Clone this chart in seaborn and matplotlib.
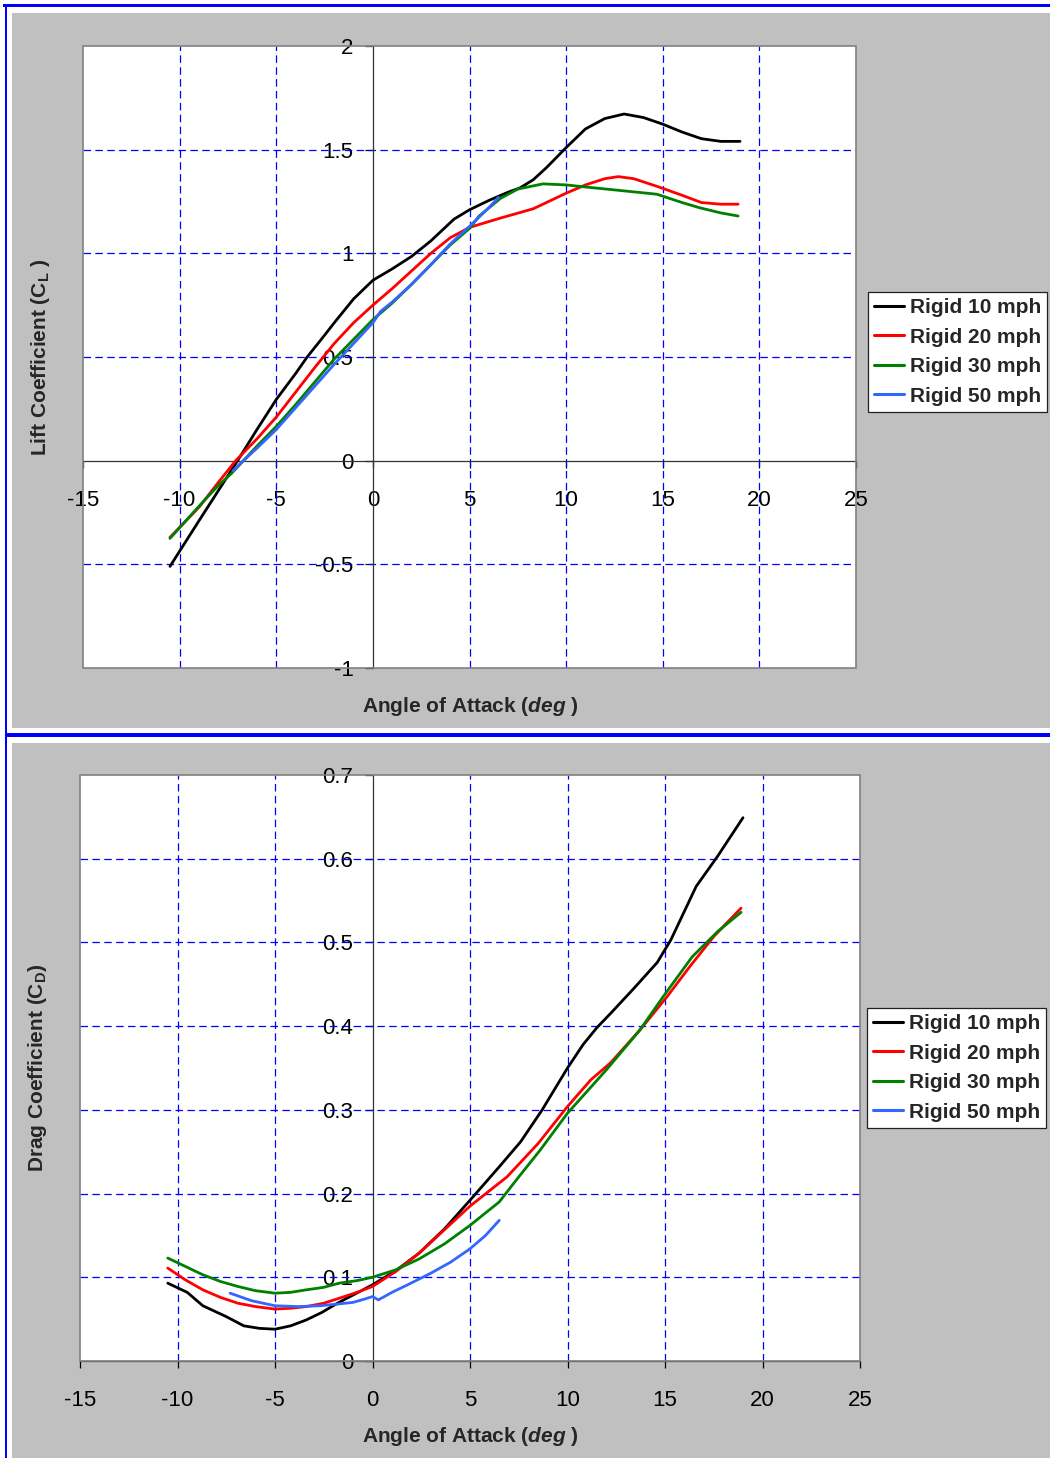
import matplotlib
matplotlib.use("Agg")
import matplotlib.pyplot as plt
import seaborn as sns
import pandas as pd
from matplotlib.patches import Rectangle
from matplotlib.lines import Line2D

sns.set_theme(style="white")
plt.rcParams['font.family'] = ['Liberation Sans', 'DejaVu Sans']
plt.rcParams['mathtext.fontset'] = 'custom'
plt.rcParams['mathtext.rm'] = 'Liberation Sans:bold'
plt.rcParams['mathtext.bf'] = 'Liberation Sans:bold'
plt.rcParams['mathtext.it'] = 'Liberation Sans:bold:italic'
plt.rcParams['mathtext.bfit'] = 'Liberation Sans:bold:italic'

# ---------------- data ----------------
series_names = ["Rigid 10 mph", "Rigid 20 mph", "Rigid 30 mph", "Rigid 50 mph"]
series_colors = ["#000000", "#FF0000", "#008000", "#3366FF"]

# Lift coefficient
cl10_x = [-10.5, -9, -8, -7, -6, -5, -4, -3.4, -2.5, -2, -1, 0, 1, 2, 3, 4.2, 5, 6, 7, 7.6, 8.3, 9, 10, 11, 12, 13, 14, 15, 16, 17, 18, 19]
cl10_y = [-0.51, -0.29, -0.145, 0.0, 0.15, 0.295, 0.42, 0.50, 0.605, 0.665, 0.78, 0.87, 0.925, 0.985, 1.06, 1.165, 1.21, 1.255, 1.295, 1.315, 1.355, 1.415, 1.51, 1.6, 1.65, 1.672, 1.655, 1.623, 1.585, 1.553, 1.54, 1.54]

cl20_x = [-10.5, -9, -8, -7.1, -6, -5, -4, -3, -2, -1, 0, 1, 2, 3, 4, 5, 6.6, 8.3, 10, 11, 12, 12.7, 13.5, 14.8, 16, 17, 18, 18.9]
cl20_y = [-0.37, -0.225, -0.105, 0.0, 0.105, 0.21, 0.33, 0.45, 0.565, 0.665, 0.75, 0.83, 0.915, 1.0, 1.075, 1.125, 1.17, 1.215, 1.29, 1.33, 1.36, 1.37, 1.36, 1.32, 1.28, 1.245, 1.237, 1.237]

cl30_x = [-10.5, -9, -8, -7.3, -6.7, -6, -5, -4, -3, -2, -1, 0, 1, 2, 3, 4, 5, 5.5, 6.6, 7.5, 8.8, 10, 11, 12.6, 14.7, 16, 16.9, 18, 18.9]
cl30_y = [-0.375, -0.22, -0.12, -0.06, 0.0, 0.07, 0.165, 0.27, 0.38, 0.49, 0.585, 0.68, 0.76, 0.85, 0.945, 1.04, 1.12, 1.18, 1.265, 1.31, 1.335, 1.33, 1.32, 1.305, 1.285, 1.245, 1.22, 1.195, 1.18]

cl50_x = [-7.25, -6.7, -6, -5, -4, -3, -2, -1, 0, 0.4, 1, 2, 3, 4, 5, 6, 6.5]
cl50_y = [-0.05, 0.0, 0.06, 0.15, 0.255, 0.36, 0.465, 0.565, 0.665, 0.72, 0.765, 0.85, 0.945, 1.045, 1.13, 1.22, 1.27]

# Drag coefficient
cd10_x = [-10.5, -9.5, -8.7, -7.5, -6.6, -5.8, -5, -4.2, -3.4, -2.6, -1.8, -0.9, 0, 1.2, 2.4, 3.7, 5, 6.5, 7.6, 8.7, 10, 10.8, 11.5, 12.2, 13.4, 14.6, 15.3, 16.6, 17.7, 19]
cd10_y = [0.093, 0.082, 0.066, 0.053, 0.042, 0.039, 0.038, 0.042, 0.049, 0.058, 0.069, 0.080, 0.091, 0.108, 0.129, 0.158, 0.192, 0.232, 0.262, 0.300, 0.350, 0.378, 0.398, 0.415, 0.445, 0.476, 0.503, 0.567, 0.603, 0.649]

cd20_x = [-10.5, -9.6, -8.7, -7.8, -6.9, -6, -5, -4.2, -3.4, -2.5, -1.7, -0.8, 0, 1.2, 2.4, 3.7, 5, 6.9, 8.5, 10, 11.2, 12.2, 13.7, 15.1, 16.3, 17.5, 18.9]
cd20_y = [0.111, 0.097, 0.085, 0.076, 0.069, 0.065, 0.062, 0.063, 0.065, 0.069, 0.075, 0.082, 0.089, 0.107, 0.129, 0.157, 0.185, 0.220, 0.260, 0.304, 0.336, 0.356, 0.395, 0.435, 0.472, 0.507, 0.541]

cd30_x = [-10.5, -9.6, -8.7, -7.8, -6.9, -6, -5, -4.2, -3.4, -2.5, -1.7, -0.8, 0, 1.2, 2.4, 3.7, 5, 6.5, 7.4, 8.6, 10, 12, 13.7, 14.9, 16.4, 17.7, 18.9]
cd30_y = [0.123, 0.113, 0.103, 0.095, 0.089, 0.084, 0.081, 0.082, 0.085, 0.088, 0.093, 0.096, 0.100, 0.109, 0.122, 0.140, 0.162, 0.190, 0.217, 0.252, 0.296, 0.348, 0.395, 0.435, 0.483, 0.513, 0.536]

cd50_x = [-7.3, -6.2, -5, -3.8, -2.7, -1.8, -1, -0.4, 0, 0.3, 1, 1.8, 3, 4, 5, 5.8, 6.5]
cd50_y = [0.081, 0.072, 0.066, 0.065, 0.066, 0.068, 0.070, 0.074, 0.077, 0.073, 0.082, 0.091, 0.105, 0.118, 0.134, 0.150, 0.168]

x_ticks = [-15, -10, -5, 0, 5, 10, 15, 20, 25]
cl_ticks = [-1, -0.5, 0, 0.5, 1, 1.5, 2]
cd_ticks = [0, 0.1, 0.2, 0.3, 0.4, 0.5, 0.6, 0.7]


def tick_fmt(v):
    return "%g" % v


def long_df(xs, ys):
    rows = []
    for name, x, y in zip(series_names, xs, ys):
        for i, (a, b) in enumerate(zip(x, y)):
            rows.append({"series": name, "order": i, "aoa": a, "val": b})
    return pd.DataFrame(rows)


cl_df = long_df([cl10_x, cl20_x, cl30_x, cl50_x], [cl10_y, cl20_y, cl30_y, cl50_y])
cd_df = long_df([cd10_x, cd20_x, cd30_x, cd50_x], [cd10_y, cd20_y, cd30_y, cd50_y])

# ---------------- figure ----------------
W, H = 1050, 1458
fig = plt.figure(figsize=(W / 100, H / 100), dpi=100)
fig.patch.set_facecolor("white")


def px_rect(x0, y0, x1, y1, color):
    fig.patches.append(Rectangle((x0 / W, 1 - y1 / H), (x1 - x0) / W, (y1 - y0) / H,
                                 transform=fig.transFigure, facecolor=color,
                                 edgecolor="none", zorder=-10))


# grey panel backgrounds and blue separators
px_rect(12, 13, 1050, 728, "#C0C0C0")
px_rect(12, 743, 1050, 1458, "#C0C0C0")
px_rect(3, 4, 1050, 7, "#0000FF")
px_rect(5, 733, 1050, 737, "#0000FF")
px_rect(5, 4, 7, 1458, "#0000FF")

palette = dict(zip(series_names, series_colors))


def setup_axes(ax, df, ylim, yticks):
    ax.set_facecolor("white")
    ax.set_xlim(-15, 25)
    ax.set_ylim(*ylim)
    # dashed blue gridlines (not on the zero axes or the frame)
    for xv in x_ticks:
        if xv not in (0, x_ticks[0], x_ticks[-1]):
            ax.axvline(xv, color="#0000FF", linestyle=(0, (6, 3.5)), linewidth=0.9, zorder=1)
    for yv in yticks:
        if yv != 0 and ylim[0] < yv < ylim[1]:
            ax.axhline(yv, color="#0000FF", linestyle=(0, (6, 3.5)), linewidth=0.9, zorder=1)
    sns.lineplot(data=df, x="aoa", y="val", hue="series", units="series",
                 estimator=None, sort=False, palette=palette, linewidth=2.0,
                 ax=ax, legend=False, zorder=5)
    ax.set_xticks(x_ticks)
    ax.set_yticks(yticks)
    ax.set_xticklabels([tick_fmt(v) for v in x_ticks])
    ax.set_yticklabels([tick_fmt(v) for v in yticks])
    ax.grid(False)
    for s in ["top", "right"]:
        ax.spines[s].set_visible(False)
    for s in ["left", "bottom"]:
        ax.spines[s].set_position(("data", 0))
        ax.spines[s].set_color("#333333")
        ax.spines[s].set_linewidth(0.9)
        ax.spines[s].set_zorder(4)
    ax.tick_params(axis="y", direction="out", length=6, width=0.9, pad=8,
                   labelsize=16, colors="black", left=True)
    ax.tick_params(axis="x", direction="out", length=5, width=0.9, pad=16,
                   labelsize=16, colors="black", bottom=True)
    # grey plot-area frame
    ax.add_patch(Rectangle((0, 0), 1, 1, transform=ax.transAxes, fill=False,
                           edgecolor="#808080", linewidth=1.2, zorder=6, clip_on=False))
    ax.set_xlabel("")
    ax.set_ylabel("")


ax1 = fig.add_axes([83 / W, 1 - 668 / H, 773 / W, 622 / H])
setup_axes(ax1, cl_df, (-1, 2), cl_ticks)

ax2 = fig.add_axes([80 / W, 1 - 1361 / H, 780 / W, 586 / H])
setup_axes(ax2, cd_df, (0, 0.7), cd_ticks)

# axis titles
fig.text(470 / W, 1 - 707 / H, r"Angle of Attack ($\mathit{deg}$ )", ha="center", va="center",
         fontsize=15, fontweight="bold")
fig.text(470 / W, 1 - 1437 / H, r"Angle of Attack ($\mathit{deg}$ )", ha="center", va="center",
         fontsize=15, fontweight="bold")
fig.text(40 / W, 1 - 357 / H, r"Lift Coefficient (C$_{\mathrm{L}}$ )", ha="center", va="center",
         rotation=90, fontsize=15, fontweight="bold")
fig.text(38 / W, 1 - 1068 / H, r"Drag Coefficient (C$_{\mathrm{D}}$)", ha="center", va="center",
         rotation=90, fontsize=15, fontweight="bold")

# legends
handles = [Line2D([0], [0], color=c, linewidth=2.2) for c in series_colors]


def add_legend(top_px, left_px):
    leg = fig.legend(handles, series_names, loc="upper left",
                     bbox_to_anchor=(left_px / W, 1 - top_px / H),
                     bbox_transform=fig.transFigure,
                     prop={"family": "Liberation Sans", "weight": "bold", "size": 15},
                     frameon=True, fancybox=False, framealpha=1, edgecolor="#202020",
                     facecolor="white", borderpad=0.3, labelspacing=0.5,
                     handlelength=1.45, handletextpad=0.25, borderaxespad=0)
    leg.get_frame().set_linewidth(0.9)
    return leg


add_legend(292, 868)
add_legend(1008, 867)

fig.savefig("out.png", dpi=100, facecolor=fig.get_facecolor())
